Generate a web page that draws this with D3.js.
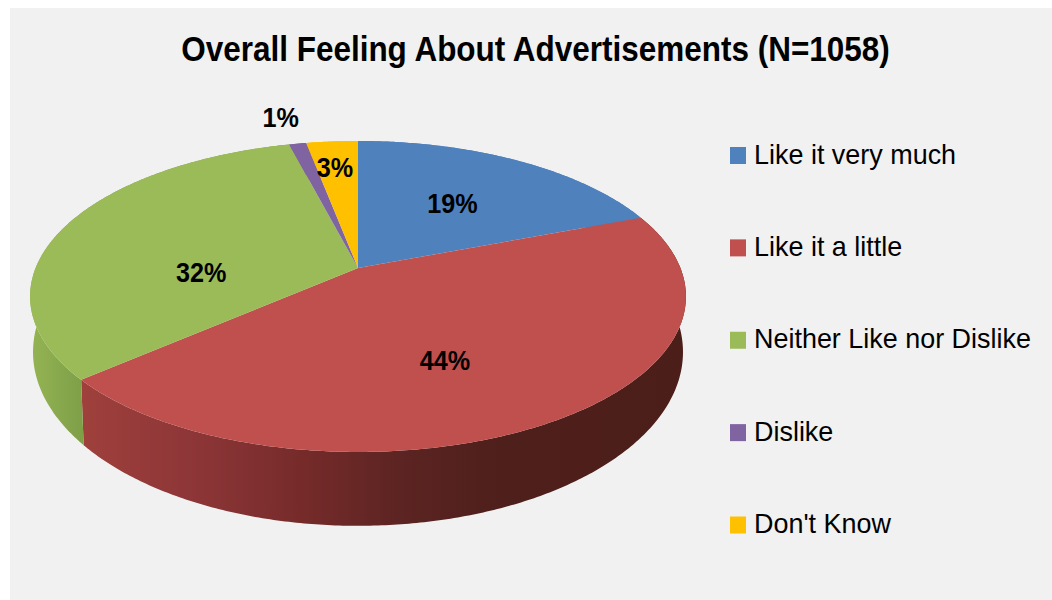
<!DOCTYPE html>
<html>
<head>
<meta charset="utf-8">
<script src="https://cdn.jsdelivr.net/npm/d3@7"></script>
<style>
  html, body { margin: 0; padding: 0; background: #fff; }
  svg { display: block; }
  text { font-family: "Liberation Sans", sans-serif; fill: #000; }
</style>
</head>
<body>
<svg id="chart" width="1052" height="600"></svg>
<script>
// Survey responses, in percent
const categories = ["Like it very much", "Like it a little", "Neither Like nor Dislike", "Dislike", "Don't Know"];
const shares = [19, 44, 32, 1, 3];
const sliceColors = ["#4f81bd", "#c0504d", "#9bbb59", "#8064a2", "#ffc000"];
const titleText = "Overall Feeling About Advertisements (N=1058)";

// Label placement per slice: radial fraction and pixel nudge
const labelRadius = [0.58, 0.5, 0.5, 1.2, 0.7];
const labelNudge = [[-3, 1], [-3, 22], [-7, 26], [-7, -6], [-4, -8]];

const svg = d3.select("#chart");
const width = 1052, height = 600;

// Panel behind the chart
svg.append("rect").attr("x", 10).attr("y", 8)
  .attr("width", width - 10).attr("height", height - 8).attr("fill", "#f1f1f1");

const color = d3.scaleOrdinal().domain(categories).range(sliceColors);
const arcs = d3.pie().sort(null).value(d => d)(shares);

// Perspective projection of a unit disc lying flat: the far side is compressed.
const tilt = -0.183;
function planeProjection(x0, y0, ax, ay) {
  return (angle, r = 1) => {
    const X = r * Math.sin(angle), Y = -r * Math.cos(angle);
    const w = 1 + tilt * Y;
    return [x0 + ax * X / w, y0 + ay * Y / w];
  };
}
const topFace = planeProjection(358, 268, 322.4, 150.3);
const baseFace = planeProjection(358, 320.2, 319.5, 168);

const sampleAngles = (a0, a1) => {
  const n = Math.max(2, Math.ceil((a1 - a0) / 0.01));
  return d3.range(n + 1).map(i => a0 + (a1 - a0) * i / n);
};
const line = d3.line();

// Horizontal shading of the side wall
const defs = svg.append("defs");
const shading = {
  1: [[82, "#9f403c"], [200, "#8c3537"], [300, "#762b2a"], [400, "#5c2422"], [500, "#4e1f1b"], [687, "#4c1e1a"]],
  2: [[31, "#94b452"], [60, "#88a84e"], [84, "#7f9f47"]]
};
Object.entries(shading).forEach(([i, stops]) => {
  const x1 = stops[0][0], x2 = stops[stops.length - 1][0];
  const g = defs.append("linearGradient").attr("id", "wall" + i)
    .attr("gradientUnits", "userSpaceOnUse")
    .attr("x1", x1).attr("x2", x2).attr("y1", 0).attr("y2", 0);
  stops.forEach(([x, c]) => g.append("stop").attr("offset", (x - x1) / (x2 - x1)).attr("stop-color", c));
});

// Side walls first, the top face then covers whatever faces away
svg.append("g").selectAll("path").data(arcs).join("path")
  .attr("d", d => {
    const as = sampleAngles(d.startAngle, d.endAngle);
    return line([...as.map(a => topFace(a)), ...as.reverse().map(a => baseFace(a))]) + "Z";
  })
  .attr("fill", (d, i) => shading[i] ? `url(#wall${i})` : color(categories[i]));

// Top face
svg.append("g").selectAll("path").data(arcs).join("path")
  .attr("d", d => line([topFace(0, 0), ...sampleAngles(d.startAngle, d.endAngle).map(a => topFace(a))]) + "Z")
  .attr("fill", (d, i) => color(categories[i]));

// Percentage labels, condensed horizontally
svg.append("g").selectAll("text").data(arcs).join("text")
  .attr("transform", (d, i) => {
    const [x, y] = topFace((d.startAngle + d.endAngle) / 2, labelRadius[i]);
    return `translate(${x + labelNudge[i][0]},${y + labelNudge[i][1]}) scale(0.9,1)`;
  })
  .attr("text-anchor", "middle").attr("dy", "0.36em")
  .attr("font-size", 28).attr("font-weight", "bold")
  .text((d, i) => shares[i] + "%");

// Title, condensed to its measured width
const title = svg.append("text").attr("text-anchor", "middle")
  .attr("font-size", 36).attr("font-weight", "bold").text(titleText);
const titleScale = 709 / title.node().getComputedTextLength();
title.attr("transform", `translate(535.5,61) scale(${titleScale},1)`);

// Legend
const legendY = d3.scalePoint().domain(categories).range([155.5, 525]);
const legend = svg.append("g").selectAll("g").data(categories).join("g")
  .attr("transform", d => `translate(730,${legendY(d)})`);
legend.append("rect").attr("x", 0).attr("y", -8.5).attr("width", 16).attr("height", 17)
  .attr("fill", d => color(d));
const legendText = legend.append("text").attr("font-size", 28).text(d => d);
const longest = d3.max(legendText.nodes(), n => n.getComputedTextLength());
legendText.attr("transform", `translate(24,8) scale(${277 / longest},1)`);
</script>
</body>
</html>
